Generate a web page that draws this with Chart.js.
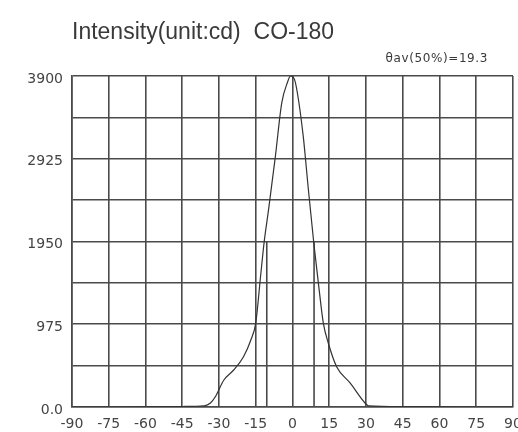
<!DOCTYPE html>
<html>
<head>
<meta charset="utf-8">
<script src="https://cdn.jsdelivr.net/npm/chart.js@4"></script>
<style>
  body { margin: 0; background: #fff; overflow: hidden; }
  #wrap { width: 518px; height: 432px; }
</style>
</head>
<body>
<div id="wrap"><canvas id="intensityChart" width="518" height="432"></canvas></div>
<script>
// angle (deg) vs luminous intensity (cd)
const angles = [-90, -75, -60, -45, -36, -33.5, -31.5, -28, -24, -20, -17, -15, -13, -11.5, -9.8, -7, -4.4, -2, -0.8, 0.8, 2, 4.4, 6.5, 8.7, 11, 12.6, 14.6, 18, 23.5, 29.6, 31, 45, 60, 75, 90];
const intensity = [0, 0, 2, 6, 15, 47, 121, 318, 436, 593, 790, 990, 1550, 1960, 2320, 2950, 3580, 3830, 3900, 3860, 3700, 3185, 2557, 1930, 1350, 986, 754, 475, 283, 47, 15, 6, 2, 0, 0];

// half-intensity angles (50% level)
const halfAngles = [-10.5, 8.8];
const halfLevel = 1950;

const xTicks = [-90, -75, -60, -45, -30, -15, 0, 15, 30, 45, 60, 75, 90];
const yTicks = [0, 487.5, 975, 1462.5, 1950, 2437.5, 2925, 3412.5, 3900];
const yLabelled = [0, 975, 1950, 2925, 3900];

const chartTitle = 'Intensity(unit:cd)  CO-180';
const halfNote = 'θav(50%)=19.3';

const gridColor = '#4a4a4a';
const textColor = '#444';

const curve = angles.map((a, i) => ({ x: a, y: intensity[i] }));

const dropLines = halfAngles.map(a => ({
  data: [{ x: a, y: halfLevel }, { x: a, y: 0 }],
  borderColor: gridColor,
  borderWidth: 1.6,
  pointRadius: 0,
  tension: 0
}));

// title texts drawn above the plot
const textPlugin = {
  id: 'texts',
  afterDraw(chart) {
    const ctx = chart.ctx;
    const area = chart.chartArea;
    ctx.save();
    ctx.fillStyle = '#3a3a3a';
    ctx.textBaseline = 'alphabetic';
    ctx.textAlign = 'left';
    ctx.font = '23px "Liberation Sans", Arial, sans-serif';
    ctx.fillText(chartTitle, area.left, 39);
    ctx.font = '12px "DejaVu Sans", sans-serif';
    ctx.textAlign = 'right';
    ctx.letterSpacing = '0.6px';
    ctx.fillText(halfNote, 488, 62);
    ctx.restore();
  }
};

const ctx = document.getElementById('intensityChart').getContext('2d');
new Chart(ctx, {
  type: 'line',
  data: {
    datasets: [
      {
        data: curve,
        borderColor: '#333',
        borderWidth: 1.2,
        pointRadius: 0,
        cubicInterpolationMode: 'monotone'
      },
      ...dropLines
    ]
  },
  options: {
    responsive: false,
    animation: false,
    layout: {
      autoPadding: false,
      padding: { top: 76, right: 5, left: 0, bottom: 0 }
    },
    plugins: {
      legend: { display: false },
      tooltip: { enabled: false }
    },
    scales: {
      x: {
        type: 'linear',
        min: -90,
        max: 90,
        afterBuildTicks: scale => { scale.ticks = xTicks.map(v => ({ value: v })); },
        afterFit: scale => {
          scale.height = 25;
          scale.paddingLeft = 0;
          scale.paddingRight = 0;
        },
        border: { color: gridColor, width: 1.6 },
        grid: { color: gridColor, lineWidth: 1.6, drawTicks: false },
        ticks: {
          padding: 9,
          maxRotation: 0,
          autoSkip: false,
          color: textColor,
          font: { family: '"DejaVu Sans", sans-serif', size: 14 },
          callback: v => String(v)
        }
      },
      y: {
        min: 0,
        max: 3900,
        afterBuildTicks: scale => { scale.ticks = yTicks.map(v => ({ value: v })); },
        afterFit: scale => {
          scale.width = 72;
          scale.paddingTop = 0;
          scale.paddingBottom = 0;
        },
        border: { color: gridColor, width: 1.6 },
        grid: { color: gridColor, lineWidth: 1.6, drawTicks: false },
        ticks: {
          padding: 9,
          autoSkip: false,
          labelOffset: 3,
          color: textColor,
          font: { family: '"DejaVu Sans", sans-serif', size: 14 },
          callback: v => yLabelled.includes(v) ? (v === 0 ? '0.0' : String(v)) : ''
        }
      }
    }
  },
  plugins: [textPlugin]
});
</script>
</body>
</html>
